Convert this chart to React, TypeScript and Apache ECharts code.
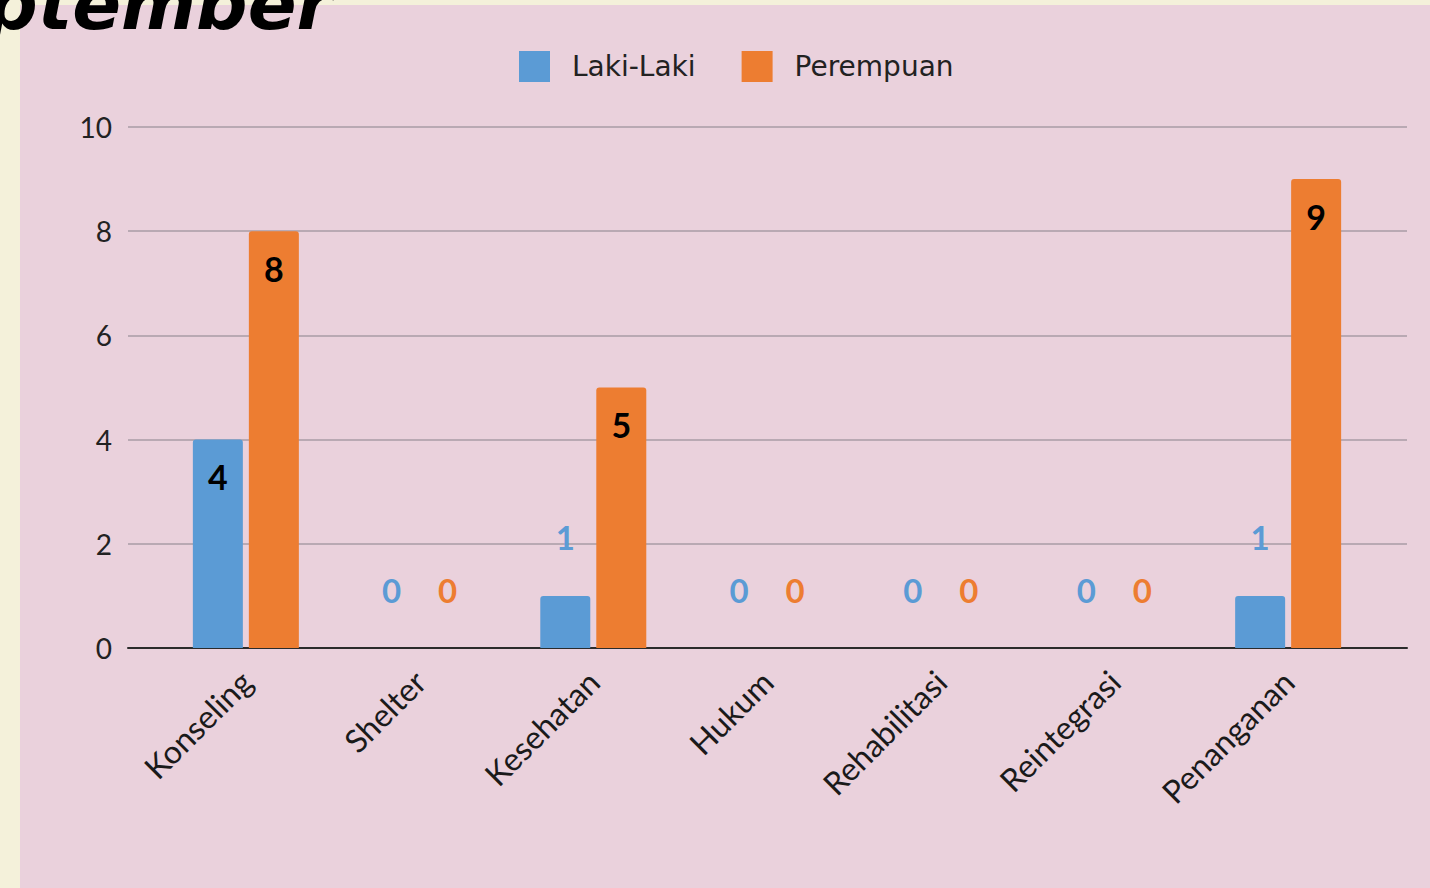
import React, { useEffect, useRef } from "react";
import * as echarts from "echarts";

const categories = ["Konseling", "Shelter", "Kesehatan", "Hukum", "Rehabilitasi", "Reintegrasi", "Penanganan"];
const lakiLaki = [4, 0, 1, 0, 0, 0, 1];
const perempuan = [8, 0, 5, 0, 0, 0, 9];
const yTicks = { min: 0, max: 10, interval: 2 };
const seriesNames = ["Laki-Laki", "Perempuan"];
const colors = ["#5b9bd5", "#ed7d31"];

const FONT = "Lato, 'Open Sans', sans-serif";
const LEGEND_FONT = "'DejaVu Sans', sans-serif";

function toData(values: number[], color: string) {
  return values.map((v) =>
    v >= 2
      ? {
          value: v,
          label: { position: "insideTop", distance: 20, color: "#000", fontWeight: "bold", fontSize: 34 },
        }
      : {
          value: v,
          label: { position: "top", distance: 42, color, fontWeight: "bold", fontSize: 33 },
        }
  );
}

export default function App() {
  const ref = useRef<HTMLDivElement>(null);
  useEffect(() => {
    document.body.style.margin = "0";
    const chart = echarts.init(ref.current!, null, { renderer: "svg" });
    chart.setOption({
      animation: false,
      backgroundColor: "#f4f1da",
      textStyle: { fontFamily: FONT },
      graphic: [
        { type: "rect", z: -10, shape: { x: 20, y: 5, width: 1410, height: 883 }, style: { fill: "#ead1dc" } },
        {
          type: "text",
          z: 10,
          x: 332,
          y: 40,
          style: {
            text: "September",
            align: "right",
            verticalAlign: "bottom",
            fontSize: 72,
            fontStyle: "italic",
            fontWeight: "bold",
            fontFamily: "'DejaVu Sans', sans-serif",
            fill: "#000",
          },
        },
      ],
      legend: {
        top: 46,
        left: 514,
        itemWidth: 31,
        itemHeight: 31,
        itemGap: 46,
        icon: "rect",
        textStyle: { fontSize: 28, color: "#222", fontFamily: LEGEND_FONT, padding: [0, 0, 0, 17] },
        data: seriesNames,
      },
      grid: [
        { left: 128, right: 23, top: 127, bottom: 240 },
        { left: 159, right: 55, top: 127, bottom: 240 },
      ],
      xAxis: [
        {
          gridIndex: 0,
          type: "value",
          min: 0,
          max: 1,
          axisLine: { show: true, lineStyle: { color: "#2b2b2b", width: 2 } },
          axisTick: { show: false },
          axisLabel: { show: false },
          splitLine: { show: false },
        },
        {
          gridIndex: 1,
          type: "category",
          data: categories,
          axisLine: { show: false },
          axisTick: { show: false },
          axisLabel: { rotate: 45, fontSize: 32, color: "#1a1a1a", margin: 28, fontFamily: FONT, interval: 0 },
        },
      ],
      yAxis: [
        {
          gridIndex: 0,
          type: "value",
          ...yTicks,
          axisLine: { show: false },
          axisTick: { show: false },
          axisLabel: { fontSize: 28, color: "#222", margin: 16, fontFamily: FONT },
          splitLine: { lineStyle: { color: "#b9a9b3", width: 2 } },
        },
        {
          gridIndex: 1,
          type: "value",
          ...yTicks,
          show: false,
          splitLine: { show: false },
        },
      ],
      series: [
        {
          name: seriesNames[0],
          type: "bar",
          xAxisIndex: 1,
          yAxisIndex: 1,
          barWidth: 50,
          barGap: "12%",
          itemStyle: { color: colors[0], borderRadius: [3, 3, 0, 0] },
          label: { show: true, fontFamily: FONT },
          data: toData(lakiLaki, colors[0]),
        },
        {
          name: seriesNames[1],
          type: "bar",
          xAxisIndex: 1,
          yAxisIndex: 1,
          barWidth: 50,
          barGap: "12%",
          itemStyle: { color: colors[1], borderRadius: [3, 3, 0, 0] },
          label: { show: true, fontFamily: FONT },
          data: toData(perempuan, colors[1]),
        },
      ],
    });
    return () => chart.dispose();
  }, []);
  return <div ref={ref} style={{ position: "absolute", left: 0, top: 0, width: 1430, height: 888 }} />;
}
